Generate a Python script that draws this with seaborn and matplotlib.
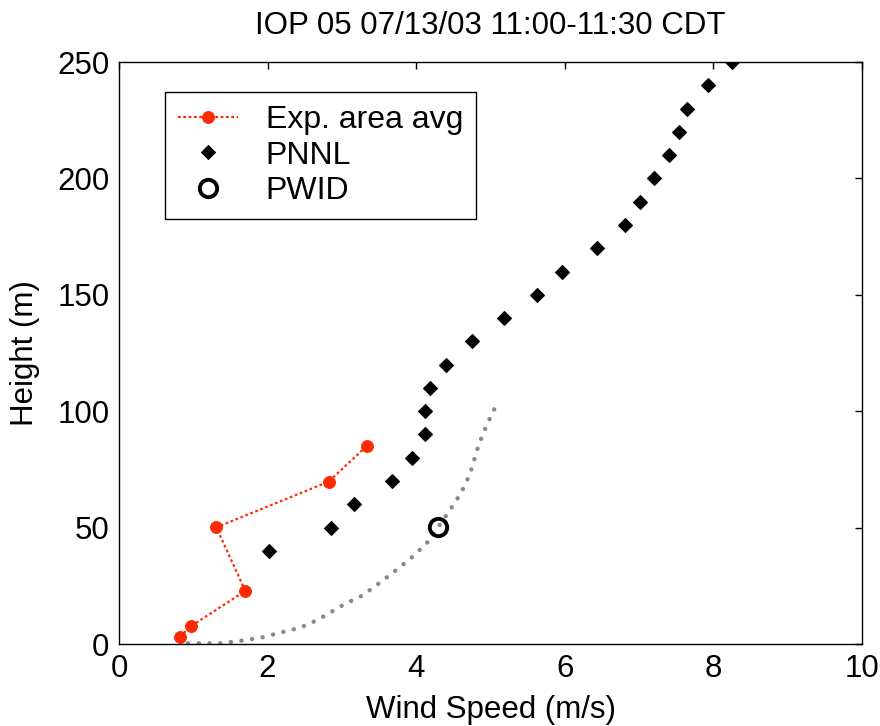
import matplotlib
matplotlib.use("Agg")
import matplotlib.pyplot as plt
import seaborn as sns
import numpy as np

# ---- data ----
exp_speed = [0.82, 0.97, 1.70, 1.31, 2.82, 3.34]
exp_height = [3.1, 7.7, 22.8, 50.1, 69.7, 85.2]

pnnl_speed = [2.02, 2.86, 3.16, 3.67, 3.95, 4.12, 4.12, 4.18, 4.40, 4.75, 5.18,
              5.63, 5.96, 6.44, 6.81, 7.01, 7.20, 7.40, 7.54, 7.65, 7.93, 8.25]
pnnl_height = [40, 50, 60, 70, 80, 90, 100, 110, 120, 130, 140,
               150, 160, 170, 180, 190, 200, 210, 220, 230, 240, 250]

pwid_speed = [4.30]
pwid_height = [50.4]

curve_speed = [0.93, 1.36, 1.62, 1.91, 2.17, 2.44, 2.67, 2.90, 3.04, 3.28, 3.50,
               3.72, 3.93, 4.14, 4.45, 4.60, 4.72, 4.84, 4.95, 5.06]
curve_height = [0.3, 0.3, 1.3, 2.7, 4.9, 7.0, 10.3, 14.6, 17.2, 20.9, 26.1,
                31.5, 36.9, 43.2, 57.3, 64.7, 72.6, 85.5, 94.1, 101.5]

title = "IOP 05 07/13/03 11:00-11:30 CDT"
xlabel = "Wind Speed (m/s)"
ylabel = "Height (m)"
xticks = [0, 2, 4, 6, 8, 10]
yticks = [0, 50, 100, 150, 200, 250]

# ---- style ----
sns.set_style("white")
plt.rcParams['font.family'] = ['Liberation Sans', 'DejaVu Sans']
plt.rcParams['text.color'] = 'black'
plt.rcParams['axes.labelcolor'] = 'black'
FS = 22.5

fig = plt.figure(figsize=(8.8, 7.26), dpi=100)
ax = fig.add_axes([119/880, 1 - 644/726, (862-119)/880, (644-62)/726])

RED = '#ff2a00'

sns.lineplot(x=curve_speed, y=curve_height, sort=False, estimator=None, ax=ax,
             color='#888888', linewidth=3.2, linestyle=(0, (0.01, 2.4)),
             dash_capstyle='round', legend=False)

sns.lineplot(x=exp_speed, y=exp_height, sort=False, estimator=None, ax=ax,
             color=RED, linewidth=1.6, linestyle=(0, (1.2, 1.2)),
             marker='o', markersize=8.5, markeredgecolor=RED, markerfacecolor=RED,
             label='Exp. area avg')

sns.lineplot(x=pnnl_speed, y=pnnl_height, sort=False, estimator=None, ax=ax,
             linestyle='none', marker='D', markersize=7.6, color='black',
             markeredgecolor='black', markerfacecolor='black', label='PNNL')

sns.lineplot(x=pwid_speed, y=pwid_height, sort=False, estimator=None, ax=ax,
             linestyle='none', marker='o', markersize=12.5, color='black',
             markeredgecolor='black', markerfacecolor='none', markeredgewidth=2.8,
             label='PWID')

ax.set_xlim(0, 10)
ax.set_ylim(0, 250)
ax.set_xticks(xticks)
ax.set_yticks(yticks)
ax.set_xticklabels([str(t) for t in xticks])
ax.set_yticklabels([str(t) for t in yticks])
ax.tick_params(direction='in', length=5, width=1, colors='black',
               labelsize=FS, top=True, right=True, pad=7)
for s in ax.spines.values():
    s.set_visible(True)
    s.set_color('black')
    s.set_linewidth(1.0)

ax.set_title(title, fontsize=FS, pad=20, color='black')
ax.set_xlabel(xlabel, fontsize=FS, labelpad=8, color='black')
ax.set_ylabel(ylabel, fontsize=FS, labelpad=12, color='black')

leg = ax.legend(loc='upper left', bbox_to_anchor=((165-119)/743, (644-92)/582),
                borderaxespad=0, fontsize=FS + 0.5, frameon=True, fancybox=False,
                edgecolor='black', framealpha=1, handlelength=1.9,
                handletextpad=0.85, labelspacing=0.18, borderpad=0.4)
leg.get_frame().set_linewidth(1.0)
for t in leg.get_texts():
    t.set_color('black')

fig.savefig('out.png', dpi=100)
